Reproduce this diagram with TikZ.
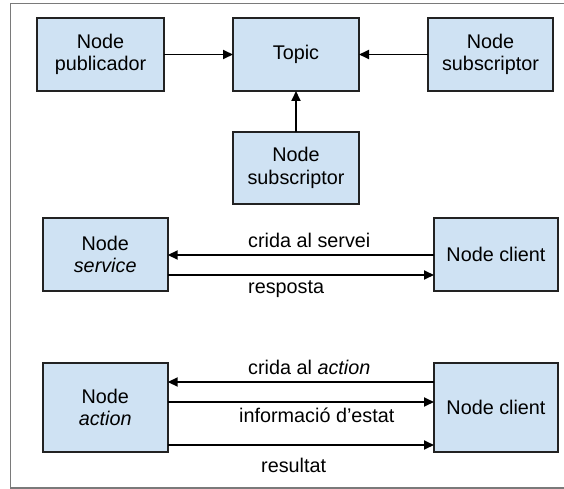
\documentclass[tikz,border=0pt]{standalone}
\usepackage{fontspec}
\setmainfont{Liberation Sans}
\usetikzlibrary{arrows.meta}
\definecolor{boxfill}{HTML}{CFE2F3}
\definecolor{boxline}{HTML}{222222}
\definecolor{framegray}{HTML}{7A7A7A}
\begin{document}
\begin{tikzpicture}[x=1pt,y=-1pt,
  box/.style={draw=boxline,fill=boxfill,line width=2pt,inner sep=0pt,outer sep=0pt,
    align=center,font=\fontsize{19.8}{22.5}\selectfont},
  lbl/.style={inner sep=0pt,anchor=west,font=\fontsize{19.8}{22.5}\selectfont},
  arr/.style={line width=1.8pt,draw=black,-{Triangle[length=10pt,width=9pt]}}]
\useasboundingbox (0,0) rectangle (564,489);
% frame
\draw[framegray,line width=1.5pt] (570,3.3) -- (10.7,3.3) -- (10.7,488) -- (570,488);
% top group
\node[box,minimum width=127,minimum height=73] (pub) at (100.5,54.5) {Node\\publicador};
\node[box,minimum width=126,minimum height=73] (topic) at (296,54.5) {Topic};
\node[box,minimum width=125,minimum height=73] (subr) at (490.5,54.5) {Node\\subscriptor};
\node[box,minimum width=126,minimum height=72] (subb) at (296,168) {Node\\subscriptor};
\draw[arr] (pub) -- (topic);
\draw[arr] (subr) -- (topic);
\draw[arr] (subb) -- (topic);
% service
\node[box,minimum width=125,minimum height=73] (serv) at (105.2,254.5) {Node\\\textit{service}};
\node[box,minimum width=124,minimum height=73] (cli1) at (496,254.5) {Node client};
\draw[arr] ([yshift=-0.5pt]cli1.west) -- ([yshift=-0.5pt]serv.east);
\draw[arr] ([yshift=-20.5pt]serv.east) -- ([yshift=-20.5pt]cli1.west);
\node[lbl] (l1) at (248,240) {crida al servei};
\node[lbl] (l2) at (248,289) {resposta};
% action
\node[box,minimum width=125,minimum height=89] (act) at (105.2,407.5) {Node\\\textit{action}};
\node[box,minimum width=124,minimum height=89] (cli2) at (496,407.5) {Node client};
\draw[arr] ([yshift=25.5pt]cli2.west) -- ([yshift=25.5pt]act.east);
\draw[arr] ([yshift=5.5pt]act.east) -- ([yshift=5.5pt]cli2.west);
\draw[arr] ([yshift=-37.5pt]act.east) -- ([yshift=-37.5pt]cli2.west);
\node[lbl] (l3) at (248,367) {crida al \textit{action}};
\node[lbl] (l4) at (239,415) {informació d{\char"0027}estat};
\node[lbl] (l5) at (261,465) {resultat};
\end{tikzpicture}
\end{document}
